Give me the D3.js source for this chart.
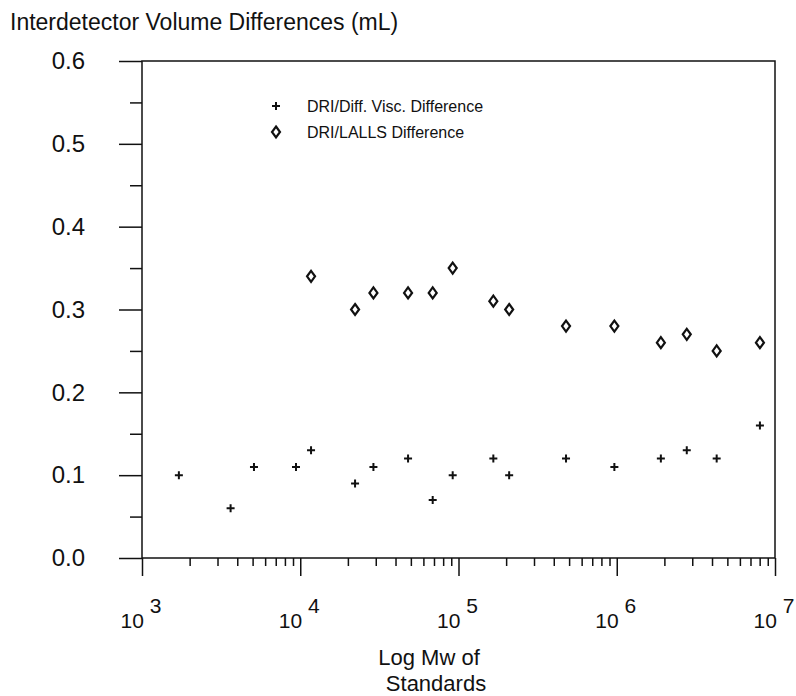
<!DOCTYPE html>
<html>
<head>
<meta charset="utf-8">
<title>Interdetector Volume Differences</title>
<script src="https://cdn.jsdelivr.net/npm/d3@7"></script>
<style>
  * { margin: 0; padding: 0; }
  body { background: #fff; }
  svg text { font-family: "Liberation Sans", Arial, Helvetica, sans-serif; fill: #111; }
  .axis path { display: none; }
  .axis line { stroke: #111; stroke-width: 1.5px; }
  .frame { fill: none; stroke: #111; stroke-width: 1.5px; }
  .plus { stroke: #111; stroke-width: 2px; fill: none; }
  .diamond { stroke: #111; stroke-width: 2.2px; fill: #fff; }
</style>
</head>
<body>
<script>
// molecular weight of the standards
var mw = [1710, 3630, 5100, 9400, 11700, 22200, 29000, 48000, 68700, 91900,
          166000, 209000, 478000, 966000, 1.9e6, 2.77e6, 4.28e6, 8.03e6];
// DRI / differential viscometer volume difference (mL)
var viscDiff = [0.10, 0.06, 0.11, 0.11, 0.13, 0.09, 0.11, 0.12, 0.07, 0.10,
                0.12, 0.10, 0.12, 0.11, 0.12, 0.13, 0.12, 0.16];
// DRI / LALLS volume difference (mL), first four standards not measured
var lallsDiff = [null, null, null, null, 0.34, 0.30, 0.32, 0.32, 0.32, 0.35,
                 0.31, 0.30, 0.28, 0.28, 0.26, 0.27, 0.25, 0.26];

var yTicks = [0.0, 0.1, 0.2, 0.3, 0.4, 0.5, 0.6];
var decades = [3, 4, 5, 6, 7];
var legendLabels = ["DRI/Diff. Visc. Difference", "DRI/LALLS Difference"];

var W = 796, H = 696;
var svg = d3.select("body").append("svg")
  .attr("width", W).attr("height", H)
  .attr("viewBox", `0 0 ${W} ${H}`);

var x = d3.scaleLog().domain([1e3, 1e7]).range([142, 775]);
var y = d3.scaleLinear().domain([0, 0.6]).range([558, 61]);

// minor ticks 2..9 in each decade
var minorX = [];
decades.slice(0, -1).forEach(function (p) {
  for (var k = 2; k <= 9; k++) minorX.push(k * Math.pow(10, p));
});
var minorY = yTicks.slice(0, -1).map(function (t) { return t + 0.05; });

// x axis (ticks outward, below)
svg.append("g").attr("class", "axis")
  .attr("transform", `translate(0,${y(0)})`)
  .call(d3.axisBottom(x).tickValues(minorX).tickSize(8).tickFormat(""));
svg.append("g").attr("class", "axis")
  .attr("transform", `translate(0,${y(0)})`)
  .call(d3.axisBottom(x).tickValues(decades.map(function (p) { return Math.pow(10, p); }))
    .tickSize(18).tickFormat(""));

// y axis (ticks outward, left)
svg.append("g").attr("class", "axis")
  .attr("transform", `translate(${x(1e3)},0)`)
  .call(d3.axisLeft(y).tickValues(minorY).tickSize(12).tickFormat(""));
var yAx = svg.append("g").attr("class", "axis")
  .attr("transform", `translate(${x(1e3)},0)`)
  .call(d3.axisLeft(y).tickValues(yTicks).tickSize(23).tickPadding(34)
    .tickFormat(d3.format(".1f")));
yAx.selectAll("text").style("font-size", "24px").attr("fill", "#111");

// frame
svg.append("rect").attr("class", "frame")
  .attr("x", x(1e3)).attr("y", y(0.6))
  .attr("width", x(1e7) - x(1e3)).attr("height", y(0) - y(0.6));

// decade labels 10^n
var xl = svg.append("g").selectAll("text")
  .data(decades).enter().append("text")
  .attr("x", function (p) { return x(Math.pow(10, p)) - 1; })
  .attr("y", 628)
  .attr("text-anchor", "middle")
  .style("font-size", "21px");
xl.append("tspan").text("10");
xl.append("tspan").attr("dx", 6).attr("dy", -15).text(function (p) { return p; });

// titles
svg.append("text").attr("x", 10).attr("y", 30)
  .style("font-size", "23px")
  .text("Interdetector Volume Differences (mL)");
svg.append("text").attr("x", 429).attr("y", 665)
  .attr("text-anchor", "middle").style("font-size", "22px").text("Log Mw of");
svg.append("text").attr("x", 436).attr("y", 691)
  .attr("text-anchor", "middle").style("font-size", "22px").text("Standards");

// markers
function plusPath(cx, cy) {
  var r = 4;
  return `M${cx - r},${cy}H${cx + r}M${cx},${cy - r}V${cy + r}`;
}
function diamondPath(cx, cy) {
  var rx = 4, ry = 5.5;
  return `M${cx},${cy - ry}L${cx + rx},${cy}L${cx},${cy + ry}L${cx - rx},${cy}Z`;
}

svg.append("g").selectAll("path")
  .data(mw.map(function (m, i) { return [m, viscDiff[i]]; }))
  .enter().append("path").attr("class", "plus")
  .attr("d", function (d) { return plusPath(x(d[0]), y(d[1])); });

svg.append("g").selectAll("path")
  .data(mw.map(function (m, i) { return [m, lallsDiff[i]]; })
    .filter(function (d) { return d[1] != null; }))
  .enter().append("path").attr("class", "diamond")
  .attr("d", function (d) { return diamondPath(x(d[0]), y(d[1])); });

// legend
var lg = svg.append("g");
lg.append("path").attr("class", "plus").attr("d", plusPath(276, 106));
lg.append("path").attr("class", "diamond").attr("d", diamondPath(276, 132));
lg.selectAll("text").data(legendLabels).enter().append("text")
  .attr("x", 307).attr("y", function (d, i) { return 112 + i * 26; })
  .style("font-size", "16px")
  .text(function (d) { return d; });
</script>
</body>
</html>
